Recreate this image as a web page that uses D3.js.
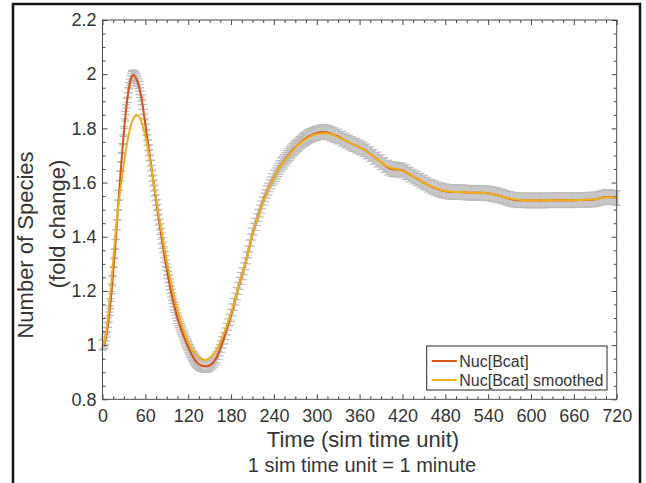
<!DOCTYPE html>
<html>
<head>
<meta charset="utf-8">
<script src="https://cdn.jsdelivr.net/npm/d3@7"></script>
<style>
  body { margin: 0; background: #fff; }
  svg { display: block; font-family: "Liberation Sans", Arial, Helvetica, sans-serif; }
</style>
</head>
<body>
<svg id="chart" width="646" height="483"></svg>
<script>
// sample times: every minute up to 150, every 2 up to 300, every 5 after
const redTimes = d3.range(0, 151).concat(d3.range(152, 301, 2), d3.range(305, 721, 5));
const redValues = [
  1.000,1.001,1.005,1.012,1.021,1.033,1.047,1.064,1.083,1.104,
  1.127,1.153,1.180,1.208,1.239,1.271,1.304,1.337,1.372,1.408,
  1.444,1.481,1.517,1.553,1.589,1.625,1.659,1.693,1.726,1.758,
  1.788,1.817,1.845,1.869,1.893,1.914,1.933,1.950,1.964,1.976,
  1.985,1.992,1.996,1.997,1.996,1.993,1.990,1.985,1.978,1.972,
  1.965,1.955,1.944,1.932,1.919,1.905,1.888,1.870,1.852,1.834,
  1.815,1.795,1.775,1.757,1.738,1.720,1.701,1.682,1.663,1.644,
  1.625,1.607,1.589,1.571,1.553,1.535,1.517,1.499,1.481,1.463,
  1.445,1.428,1.411,1.394,1.377,1.360,1.343,1.326,1.310,1.295,
  1.280,1.266,1.252,1.238,1.224,1.210,1.198,1.186,1.174,1.162,
  1.150,1.140,1.130,1.120,1.110,1.100,1.092,1.084,1.076,1.068,
  1.060,1.053,1.046,1.039,1.032,1.025,1.018,1.011,1.005,0.999,
  0.993,0.987,0.981,0.976,0.970,0.965,0.960,0.955,0.951,0.947,
  0.943,0.940,0.937,0.934,0.932,0.930,0.928,0.927,0.925,0.924,
  0.924,0.923,0.923,0.922,0.922,0.922,0.922,0.923,0.923,0.924,
  0.925,
  // 152..300 step 2
  0.929,0.933,0.939,0.947,0.955,0.968,0.981,0.995,1.010,1.025,
  1.042,1.059,1.076,1.093,1.110,1.130,1.150,1.170,1.190,1.210,
  1.228,1.246,1.264,1.282,1.300,1.322,1.344,1.366,1.388,1.410,
  1.428,1.446,1.463,1.479,1.495,1.510,1.525,1.539,1.552,1.565,
  1.576,1.588,1.599,1.610,1.620,1.629,1.638,1.647,1.656,1.665,
  1.672,1.679,1.686,1.693,1.700,1.706,1.713,1.719,1.725,1.730,
  1.735,1.740,1.745,1.750,1.755,1.759,1.762,1.766,1.769,1.772,
  1.774,1.777,1.779,1.781,1.782,
  // 305..720 step 5
  1.786,1.787,1.785,1.780,1.775,1.770,1.762,1.755,1.748,1.742,
  1.736,1.730,1.723,1.715,1.705,1.695,1.685,1.675,1.665,1.655,
  1.650,1.648,1.647,1.645,1.638,1.630,1.622,1.615,1.607,1.600,
  1.592,1.585,1.580,1.575,1.571,1.568,1.566,1.565,1.565,1.565,
  1.564,1.563,1.562,1.562,1.562,1.562,1.561,1.560,1.558,1.555,
  1.552,1.548,1.544,1.540,1.537,1.535,1.535,1.535,1.534,1.534,
  1.534,1.534,1.534,1.534,1.535,1.535,1.535,1.535,1.535,1.535,
  1.535,1.535,1.535,1.536,1.536,1.537,1.537,1.538,1.541,1.545,
  1.547,1.547,1.545,1.543
];
// half height of the grey error bars, one value per hour of sim time
const redErrorByHour = [0.018, 0.020, 0.021, 0.022, 0.025, 0.027, 0.027, 0.027, 0.027, 0.027, 0.027, 0.027];

const smoothTimes = d3.range(0, 151, 2).concat(d3.range(155, 196, 5), d3.range(200, 721, 10));
const smoothValues = [
  1.000,1.008,1.030,1.064,1.109,1.163,1.222,1.285,1.347,1.407,
  1.462,1.510,1.551,1.592,1.633,1.671,1.706,1.739,1.768,1.792,
  1.813,1.829,1.840,1.847,1.849,1.846,1.839,1.828,1.812,1.793,
  1.771,1.746,1.719,1.689,1.658,1.627,1.594,1.561,1.528,1.495,
  1.462,1.430,1.398,1.368,1.339,1.310,1.283,1.256,1.231,1.207,
  1.183,1.161,1.140,1.120,1.101,1.083,1.067,1.052,1.037,1.024,
  1.012,1.001,0.991,0.982,0.974,0.967,0.961,0.956,0.952,0.948,
  0.946,0.945,0.945,0.947,0.949,0.953,
  0.966,0.986,1.012,1.044,1.080,1.120,1.164,1.211,1.257,
  1.300,1.408,1.493,1.563,1.618,1.663,1.698,1.728,1.752,1.769,
  1.779,1.782,1.778,1.767,1.755,1.742,1.730,1.714,1.695,1.675,
  1.658,1.650,1.643,1.630,1.615,1.600,1.586,1.576,1.569,1.566,
  1.565,1.563,1.562,1.562,1.560,1.555,1.548,1.541,1.537,1.535,
  1.534,1.534,1.534,1.535,1.535,1.535,1.535,1.536,1.537,1.539,
  1.544,1.546,1.544
];

const xTicks = [0, 60, 120, 180, 240, 300, 360, 420, 480, 540, 600, 660, 720];
const yTicks = [0.8, 1, 1.2, 1.4, 1.6, 1.8, 2, 2.2];
const yTickLabels = ['0.8', '1', '1.2', '1.4', '1.6', '1.8', '2', '2.2'];
const seriesNames = ['Nuc[Bcat]', 'Nuc[Bcat] smoothed'];
const seriesColors = ['#D95319', '#EDB120'];

const red = redTimes.map((t, i) => ({
  t: t,
  v: redValues[i],
  e: redErrorByHour[Math.min(11, Math.floor(t / 60))],
  next: i < redTimes.length - 1 ? redTimes[i + 1] : t + (t - redTimes[i - 1])
}));
const smooth = smoothTimes.map((t, i) => ({ t: t, v: smoothValues[i] }));

const plotLeft = 102.5, plotRight = 616.7, plotTop = 20, plotBottom = 399.3;
const axisColor = '#4a4a4a';
const textColor = '#363636';

const svg = d3.select('#chart');

// figure frame
svg.append('rect')
  .attr('x', 13).attr('y', 4)
  .attr('width', 627).attr('height', 520)
  .attr('fill', 'none')
  .attr('stroke', '#141414')
  .attr('stroke-width', 2.5);

const x = d3.scaleLinear().domain([0, 720]).range([plotLeft, plotRight]);
const y = d3.scaleLinear().domain([0.8, 2.2]).range([plotBottom, plotTop]);

const xMinor = d3.range(0, 721, 15).filter(d => d % 60 !== 0);
const yMinor = d3.range(16, 45).map(i => i * 0.05).filter(d => Math.round(d * 100) % 20 !== 0);

function styleAxis(g) {
  g.select('.domain').remove();
  g.selectAll('line').attr('stroke', axisColor);
  g.selectAll('text').attr('fill', textColor).attr('font-size', 18);
}

// error bars (drawn first so the axes and lines sit on top)
const eb = svg.append('g');
eb.selectAll('line.v').data(red).enter().append('line')
  .attr('stroke', '#c6c6c6')
  .attr('stroke-width', d => Math.max(1, x(d.next) - x(d.t) + 0.3))
  .attr('x1', d => x(d.t)).attr('x2', d => x(d.t))
  .attr('y1', d => y(d.v - d.e)).attr('y2', d => y(d.v + d.e));
const caps = eb.append('g').attr('stroke', '#bcbcbc').attr('stroke-width', 1.2);
caps.selectAll('line.lo').data(red).enter().append('line')
  .attr('x1', d => x(d.t) - 4).attr('x2', d => x(d.t) + 4)
  .attr('y1', d => y(d.v - d.e)).attr('y2', d => y(d.v - d.e));
caps.selectAll('line.hi').data(red).enter().append('line')
  .attr('x1', d => x(d.t) - 4).attr('x2', d => x(d.t) + 4)
  .attr('y1', d => y(d.v + d.e)).attr('y2', d => y(d.v + d.e));

// major ticks with labels
svg.append('g')
  .attr('transform', `translate(0,${plotBottom})`)
  .call(d3.axisBottom(x).tickValues(xTicks).tickSize(-5).tickPadding(9.5).tickFormat(d3.format('d')))
  .call(styleAxis);
svg.append('g')
  .attr('transform', `translate(${plotLeft},0)`)
  .call(d3.axisLeft(y).tickValues(yTicks).tickSize(-5).tickPadding(6)
    .tickFormat((d, i) => yTickLabels[i]))
  .call(styleAxis);
// mirrored ticks on top and right
svg.append('g')
  .attr('transform', `translate(0,${plotTop})`)
  .call(d3.axisTop(x).tickValues(xTicks).tickSize(-5).tickFormat(''))
  .call(styleAxis);
svg.append('g')
  .attr('transform', `translate(${plotRight},0)`)
  .call(d3.axisRight(y).tickValues(yTicks).tickSize(-5).tickFormat(''))
  .call(styleAxis);
// minor ticks
svg.append('g').attr('transform', `translate(0,${plotBottom})`)
  .call(d3.axisBottom(x).tickValues(xMinor).tickSize(-3).tickFormat('')).call(styleAxis);
svg.append('g').attr('transform', `translate(0,${plotTop})`)
  .call(d3.axisTop(x).tickValues(xMinor).tickSize(-3).tickFormat('')).call(styleAxis);
svg.append('g').attr('transform', `translate(${plotLeft},0)`)
  .call(d3.axisLeft(y).tickValues(yMinor).tickSize(-3).tickFormat('')).call(styleAxis);
svg.append('g').attr('transform', `translate(${plotRight},0)`)
  .call(d3.axisRight(y).tickValues(yMinor).tickSize(-3).tickFormat('')).call(styleAxis);

const line = d3.line().x(d => x(d.t)).y(d => y(d.v)).curve(d3.curveMonotoneX);

svg.append('path').datum(red)
  .attr('d', line).attr('fill', 'none')
  .attr('stroke', seriesColors[0]).attr('stroke-width', 2);
svg.append('path').datum(smooth)
  .attr('d', line).attr('fill', 'none')
  .attr('stroke', seriesColors[1]).attr('stroke-width', 2);

// axes box
svg.append('rect')
  .attr('x', plotLeft).attr('y', plotTop)
  .attr('width', plotRight - plotLeft).attr('height', plotBottom - plotTop)
  .attr('fill', 'none').attr('stroke', axisColor).attr('stroke-width', 1);

// axis labels
svg.append('text')
  .attr('x', 363).attr('y', 447)
  .attr('text-anchor', 'middle').attr('font-size', 22).attr('fill', textColor)
  .text('Time (sim time unit)');
svg.append('text')
  .attr('x', 362).attr('y', 472)
  .attr('text-anchor', 'middle').attr('font-size', 20).attr('fill', textColor)
  .text('1 sim time unit = 1 minute');
svg.append('text')
  .attr('transform', 'translate(33,245) rotate(-90)')
  .attr('text-anchor', 'middle').attr('font-size', 22).attr('fill', textColor)
  .text('Number of Species');
svg.append('text')
  .attr('transform', 'translate(65,224) rotate(-90)')
  .attr('text-anchor', 'middle').attr('font-size', 22).attr('fill', textColor)
  .text('(fold change)');

// legend
const lg = svg.append('g').attr('transform', 'translate(426.7,346)');
lg.append('rect')
  .attr('width', 180.3).attr('height', 44)
  .attr('fill', '#fff').attr('stroke', '#262626').attr('stroke-width', 1);
const items = lg.selectAll('g.item').data(seriesNames).enter().append('g')
  .attr('transform', (d, i) => `translate(0,${15 + i * 19})`);
items.append('line')
  .attr('x1', 5).attr('x2', 30)
  .attr('stroke', (d, i) => seriesColors[i]).attr('stroke-width', 2);
items.append('text')
  .attr('x', 32.6).attr('dy', '0.35em')
  .attr('font-size', 16).attr('fill', textColor)
  .text(d => d);
</script>
</body>
</html>
